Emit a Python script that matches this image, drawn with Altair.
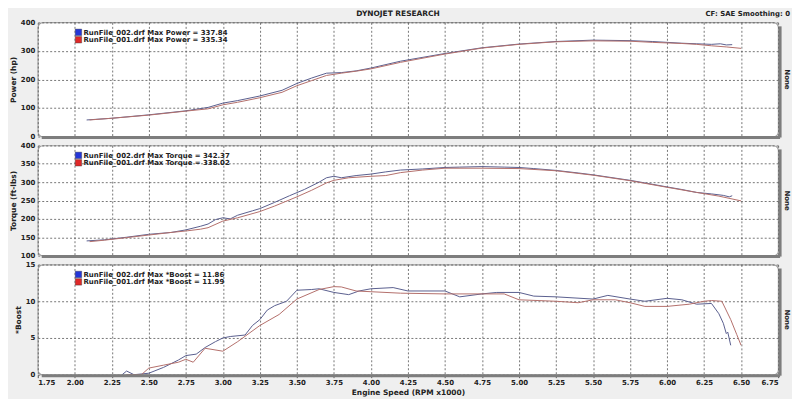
import altair as alt
import pandas as pd

# ---------------- data ----------------
x_ticks = [1.75, 2.00, 2.25, 2.50, 2.75, 3.00, 3.25, 3.50, 3.75, 4.00, 4.25,
           4.50, 4.75, 5.00, 5.25, 5.50, 5.75, 6.00, 6.25, 6.50, 6.75]

# Power (hp)
pow_rpm_002 = [2.08, 2.25, 2.50, 2.75, 2.90, 3.00, 3.10, 3.25, 3.40, 3.50, 3.60, 3.70,
               3.80, 3.90, 4.00, 4.20, 4.50, 4.75, 5.00, 5.25, 5.50, 5.75, 5.90, 6.00,
               6.10, 6.20, 6.30, 6.36, 6.40, 6.44]
pow_val_002 = [58, 64, 76, 90, 102, 117, 126, 142, 162, 186, 205, 222,
               224, 230, 240, 264, 291, 311, 324, 333, 337.8, 336, 333, 330,
               327, 325, 323, 325, 321, 322]
pow_rpm_001 = [2.10, 2.25, 2.50, 2.75, 2.90, 3.00, 3.10, 3.25, 3.40, 3.50, 3.60, 3.70,
               3.80, 3.90, 4.00, 4.20, 4.50, 4.75, 5.00, 5.25, 5.50, 5.75, 5.90, 6.00,
               6.10, 6.20, 6.30, 6.40, 6.50]
pow_val_001 = [58, 64, 75, 89, 97, 111, 120, 136, 155, 178, 196, 214,
               222, 229, 237, 260, 289, 310, 323, 332, 335.3, 334, 330, 328,
               326, 323, 318, 314, 309]

# Torque (ft-lbs)
tq_rpm_002 = [2.08, 2.20, 2.35, 2.50, 2.65, 2.75, 2.85, 2.90, 2.95, 3.00, 3.05, 3.10,
              3.20, 3.25, 3.35, 3.45, 3.55, 3.65, 3.70, 3.75, 3.80, 3.90, 4.00, 4.10,
              4.20, 4.35, 4.50, 4.60, 4.75, 4.90, 5.00, 5.10, 5.25, 5.40, 5.50, 5.60,
              5.75, 5.85, 6.00, 6.10, 6.20, 6.30, 6.38, 6.42, 6.44]
tq_val_002 = [140, 143, 150, 158, 163, 170, 180, 186, 198, 203, 200, 210,
              222, 228, 245, 263, 280, 300, 312, 316, 312, 318, 322, 328,
              333, 336, 340, 341, 342.4, 341, 340, 337, 332, 325, 320, 314,
              305, 298, 287, 280, 272, 268, 264, 260, 263]
tq_rpm_001 = [2.10, 2.20, 2.35, 2.50, 2.65, 2.75, 2.85, 2.90, 3.00, 3.10, 3.25, 3.35,
              3.50, 3.60, 3.70, 3.75, 3.85, 4.00, 4.10, 4.20, 4.35, 4.50, 4.75, 5.00,
              5.25, 5.50, 5.75, 6.00, 6.20, 6.35, 6.50]
tq_val_001 = [138, 142, 149, 156, 163, 167, 172, 176, 194, 203, 220, 235,
              260, 278, 298, 305, 312, 316, 318, 326, 333, 338, 338, 337,
              331, 319, 304, 286, 272, 262, 249]

# *Boost
bst_rpm_002 = [2.32, 2.35, 2.40, 2.50, 2.60, 2.70, 2.75, 2.82, 2.88, 2.95, 3.00, 3.05,
               3.15, 3.20, 3.25, 3.30, 3.35, 3.43, 3.50, 3.60, 3.65, 3.75, 3.85, 3.92,
               4.00, 4.15, 4.25, 4.50, 4.60, 4.75, 4.85, 5.00, 5.10, 5.25, 5.50, 5.60,
               5.75, 5.85, 6.00, 6.10, 6.20, 6.30, 6.35, 6.38, 6.40, 6.41, 6.43]
bst_val_002 = [0.0, 0.5, 0.0, 0.2, 1.0, 2.0, 2.6, 2.8, 3.7, 4.5, 5.0, 5.2,
               5.4, 6.7, 7.5, 8.8, 9.4, 10.0, 11.5, 11.6, 11.7, 11.2, 10.9, 11.4,
               11.7, 11.86, 11.4, 11.4, 10.6, 11.0, 11.2, 11.2, 10.7, 10.6, 10.3, 10.8,
               10.3, 10.0, 10.4, 10.2, 9.6, 9.7, 8.3, 7.0, 5.6, 5.8, 4.0]
bst_rpm_001 = [2.35, 2.45, 2.50, 2.60, 2.70, 2.75, 2.80, 2.88, 3.00, 3.10, 3.25, 3.38,
               3.50, 3.65, 3.75, 3.80, 3.90, 4.00, 4.20, 4.50, 4.75, 4.90, 5.00, 5.25,
               5.40, 5.50, 5.65, 5.75, 5.85, 6.00, 6.15, 6.25, 6.30, 6.37, 6.43, 6.47, 6.50]
bst_val_001 = [0.0, 0.0, 0.9, 1.3, 1.7, 2.1, 1.7, 3.6, 3.2, 4.5, 6.7, 8.2,
               10.3, 11.6, 11.99, 11.95, 11.4, 11.3, 11.1, 11.0, 11.0, 11.0, 10.2, 10.0,
               9.8, 10.2, 10.2, 9.8, 9.3, 9.3, 9.6, 10.0, 10.1, 10.0, 7.5, 5.5, 4.0]

legend_power = ["RunFile_002.drf Max Power = 337.84", "RunFile_001.drf Max Power = 335.34"]
legend_torque = ["RunFile_002.drf Max Torque = 342.37", "RunFile_001.drf Max Torque = 338.02"]
legend_boost = ["RunFile_002.drf Max *Boost = 11.86", "RunFile_001.drf Max *Boost = 11.99"]

# ---------------- style ----------------
FONT = "DejaVu Sans"
BLUE_LINE = "#5a5f8e"
RED_LINE = "#b36f6b"
SWATCH = ["#2436d8", "#e02828"]
W = 746

one = pd.DataFrame({"k": [0]})


def lines_df(r2, v2, r1, v1):
    a = pd.DataFrame({"rpm": r2, "val": v2, "run": "002"})
    b = pd.DataFrame({"rpm": r1, "val": v1, "run": "001"})
    return pd.concat([a, b], ignore_index=True)


def panel(df, h, ytitle, ydomain, yvals, labels, bottom=False, top=False):
    xaxis = alt.Axis(values=x_ticks, format=".2f", grid=True, labels=bottom,
                     ticks=bottom, tickSize=3, domain=False,
                     title="Engine Speed (RPM x1000)" if bottom else None,
                     labelPadding=1, titlePadding=3)
    yaxis = alt.Axis(values=yvals, grid=True, tickSize=0, domain=False,
                     title=ytitle, labelPadding=3, titlePadding=3)
    lines = alt.Chart(df).mark_line(strokeWidth=1).encode(
        x=alt.X("rpm:Q", scale=alt.Scale(domain=[1.75, 6.75], nice=False, zero=False), axis=xaxis),
        y=alt.Y("val:Q", scale=alt.Scale(domain=ydomain, nice=False, zero=False), axis=yaxis),
        color=alt.Color("run:N", scale=alt.Scale(domain=["002", "001"], range=[BLUE_LINE, RED_LINE]),
                        legend=None),
    )
    layers = [lines]
    # shadow on right and bottom edge of the frame
    layers.append(alt.Chart(one).mark_rule(color="#7d7d7d", strokeWidth=3).encode(
        x=alt.value(W + 2), y=alt.value(4), y2=alt.value(h + 1)))
    layers.append(alt.Chart(one).mark_rule(color="#7d7d7d", strokeWidth=3).encode(
        x=alt.value(4), x2=alt.value(W + 2), y=alt.value(h + 1)))
    # manual legend
    for i, (lab, col) in enumerate(zip(labels, SWATCH)):
        layers.append(alt.Chart(pd.DataFrame({"label": [lab]})).mark_square(
            size=42, opacity=1, stroke="#333", strokeWidth=0.4).encode(
            x=alt.value(41), y=alt.value(10 + 7.5 * i), fill=alt.value(col)))
        layers.append(alt.Chart(pd.DataFrame({"label": [lab]})).mark_text(
            align="left", baseline="middle", font=FONT, fontSize=7, fontWeight="bold",
            color="#222").encode(
            x=alt.value(46), y=alt.value(10.5 + 7.5 * i), text="label:N"))
    # side label
    layers.append(alt.Chart(pd.DataFrame({"t": ["None"]})).mark_text(
        angle=90, font=FONT, fontSize=7, fontWeight="bold", color="#222",
        baseline="middle", align="center").encode(
        x=alt.value(W + 9), y=alt.value(h / 2), text="t:N"))
    if top:
        layers.append(alt.Chart(pd.DataFrame({"t": ["DYNOJET RESEARCH"]})).mark_text(
            font=FONT, fontSize=7.5, fontWeight="bold", color="#222", baseline="middle").encode(
            x=alt.value(W / 2 - 10), y=alt.value(-8), text="t:N"))
        layers.append(alt.Chart(pd.DataFrame({"t": ["CF: SAE  Smoothing: 0"]})).mark_text(
            font=FONT, fontSize=7, fontWeight="bold", color="#222", baseline="middle",
            align="right").encode(
            x=alt.value(W + 12), y=alt.value(-8), text="t:N"))
    return alt.layer(*layers).properties(width=W, height=h)


p1 = panel(lines_df(pow_rpm_002, pow_val_002, pow_rpm_001, pow_val_001), 115,
           "Power (hp)", [0, 400], [0, 100, 200, 300, 400], legend_power, top=True)
p2 = panel(lines_df(tq_rpm_002, tq_val_002, tq_rpm_001, tq_val_001), 111,
           "Torque (ft-lbs)", [100, 400], [100, 150, 200, 250, 300, 350, 400], legend_torque)
p3 = panel(lines_df(bst_rpm_002, bst_val_002, bst_rpm_001, bst_val_001), 111,
           "*Boost", [0, 15], [0, 5, 10, 15], legend_boost, bottom=True)

chart = alt.vconcat(p1, p2, p3, spacing=0).configure(
    background="#efefef", padding=0, font=FONT
).configure_view(
    stroke="#a0a0a0", strokeWidth=1.2, cornerRadius=5, fill="white"
).configure_axis(
    labelFont=FONT, titleFont=FONT, labelFontSize=7, titleFontSize=7.5,
    labelFontWeight="bold", titleFontWeight="bold", labelColor="#222", titleColor="#222",
    gridColor="#555", gridDash=[2, 2], gridWidth=0.8, gridOpacity=1, tickColor="#555"
)

chart.save("out.html", embed_options={"renderer": "svg", "actions": False})
